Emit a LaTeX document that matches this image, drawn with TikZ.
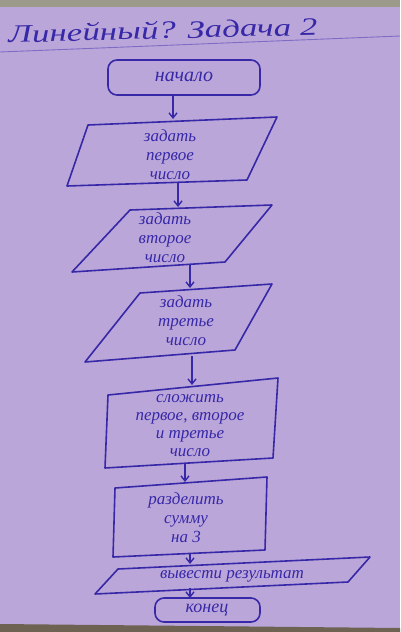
\documentclass[tikz,border=0pt]{standalone}
\usepackage{fontspec}
\setmainfont{Liberation Serif}
\usetikzlibrary{arrows.meta}
\definecolor{paper}{HTML}{BBA6DA}
\definecolor{ink}{HTML}{3628A6}
\definecolor{topstrip}{HTML}{9C9A8A}
\definecolor{botstrip}{HTML}{6E6252}
\definecolor{rule}{HTML}{7E6CC4}
\begin{document}
\begin{tikzpicture}[x=1pt,y=-1pt,
  shapeline/.style={draw=ink,line width=1.6pt,line join=round},
  txt/.style={text=ink,font=\itshape\fontsize{17}{19}\selectfont,align=center,inner sep=0pt},
  arr/.style={draw=ink,line width=1.4pt,-{Straight Barb[length=5pt,width=8pt]}}]
\useasboundingbox (0,0) rectangle (400,632);
\fill[paper] (0,0) rectangle (400,632);
\fill[topstrip] (0,0) rectangle (400,7);
\fill[botstrip] (0,624) -- (400,628) -- (400,632) -- (0,632) -- cycle;
\draw[rule,line width=0.9pt] (0,52) -- (400,36);
% title
\node[txt,font=\itshape\fontsize{25}{28}\selectfont,anchor=west,xscale=1.4,rotate=2] (title) at (8,34) {Линейный? Задача 2};
% start
\draw[shapeline,rounded corners=9pt] (108,60) rectangle (260,95);
\node[txt,font=\itshape\fontsize{20}{22}\selectfont] (start) at (184,77) {начало};
% input 1
\draw[shapeline] (88,125) -- (277,117) -- (247,180) -- (67,186) -- cycle;
\node[txt] (in1) at (170,155) {задать\\первое\\число};
% input 2
\draw[shapeline] (130,210) -- (272,205) -- (225,262) -- (72,272) -- cycle;
\node[txt] (in2) at (165,238) {задать\\второе\\число};
% input 3
\draw[shapeline] (140,293) -- (272,284) -- (235,350) -- (85,362) -- cycle;
\node[txt] (in3) at (186,321) {задать\\третье\\число};
% sum
\draw[shapeline] (108,395) -- (278,378) -- (273,458) -- (105,468) -- cycle;
\node[txt,font=\itshape\fontsize{17}{18}\selectfont] (sum) at (190,426) {сложить\\первое, второе\\и третье\\число};
% divide
\draw[shapeline] (115,488) -- (267,477) -- (265,550) -- (113,557) -- cycle;
\node[txt] (div) at (186,518) {разделить\\сумму\\на 3};
% output
\draw[shapeline] (118,569) -- (370,557) -- (348,582) -- (95,594) -- cycle;
\node[txt] (out) at (232,576) {вывести результат};
% end
\draw[shapeline,rounded corners=9pt] (155,598) rectangle (260,622);
\node[txt,font=\itshape\fontsize{18}{20}\selectfont] (stop) at (207,610) {конец};
% connector points
\coordinate (a1) at (173,95);  \coordinate (b1) at (173,119);
\coordinate (a2) at (178,183); \coordinate (b2) at (178,207);
\coordinate (a3) at (190,265); \coordinate (b3) at (190,288);
\coordinate (a4) at (192,356); \coordinate (b4) at (192,385);
\coordinate (a5) at (185,463); \coordinate (b5) at (185,482);
\coordinate (a6) at (190,554); \coordinate (b6) at (190,564);
\coordinate (a7) at (190,588); \coordinate (b7) at (190,598);
\draw[arr] (a1) -- (b1);
\draw[arr] (a2) -- (b2);
\draw[arr] (a3) -- (b3);
\draw[arr] (a4) -- (b4);
\draw[arr] (a5) -- (b5);
\draw[arr] (a6) -- (b6);
\draw[arr] (a7) -- (b7);
\end{tikzpicture}
\end{document}
